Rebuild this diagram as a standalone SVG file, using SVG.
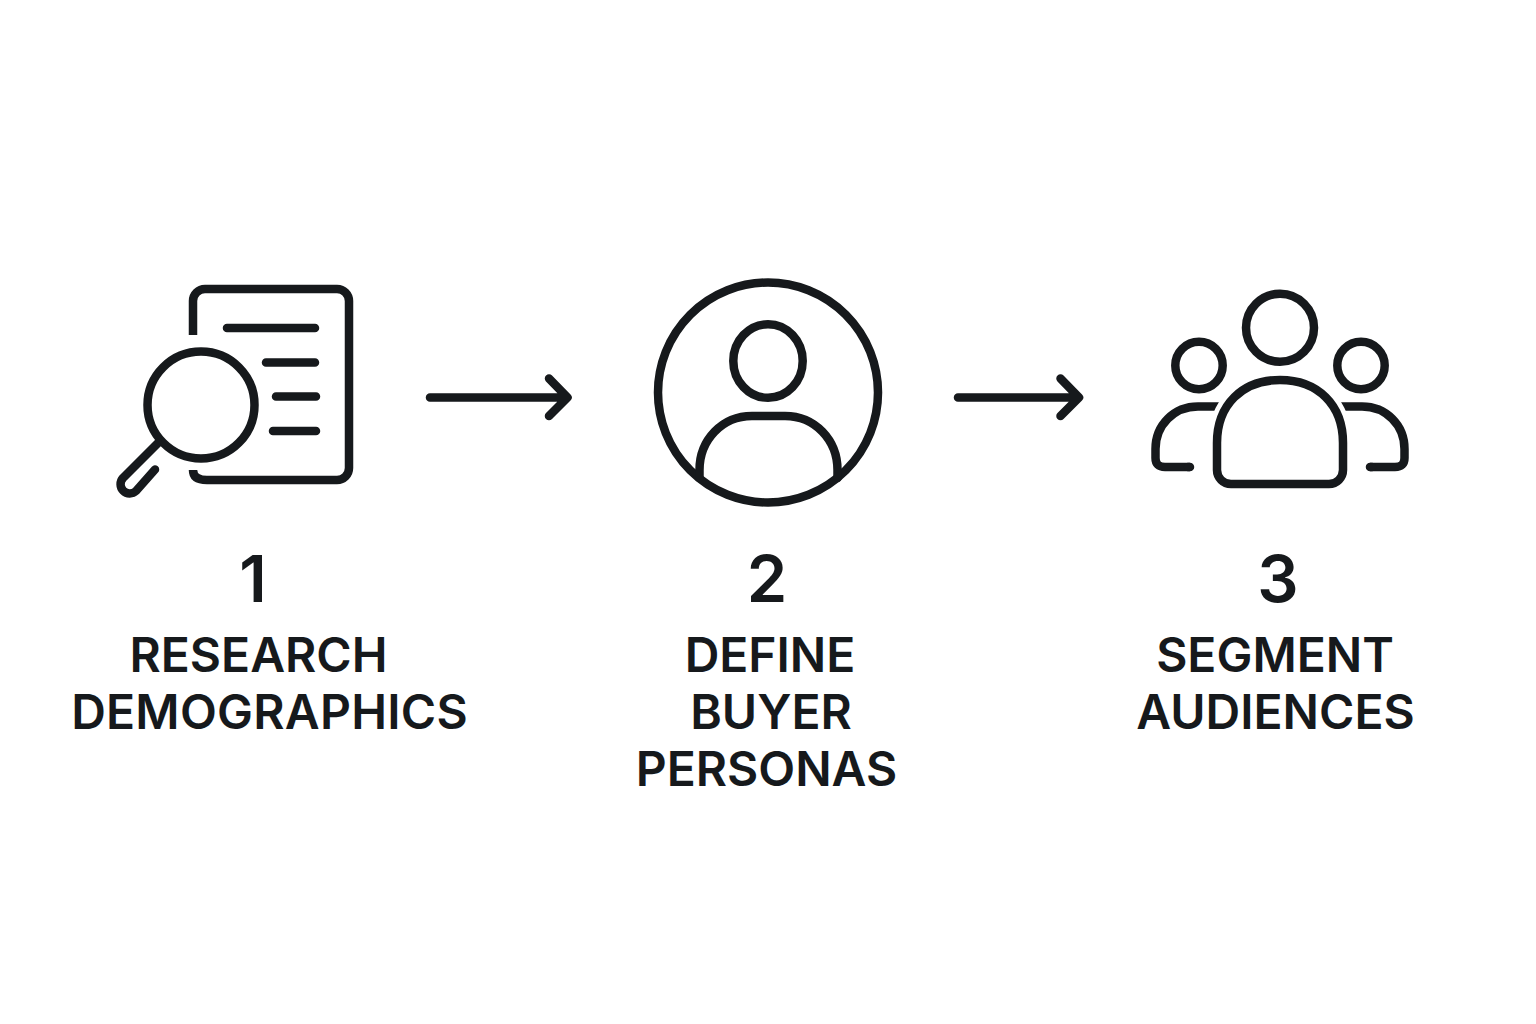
<svg xmlns="http://www.w3.org/2000/svg" width="1536" height="1024" viewBox="0 0 1536 1024">
<style>
.i{fill:none;stroke:#16191c;stroke-width:8.500;stroke-linecap:round;stroke-linejoin:round}
.b{stroke-linecap:butt}
.halo{fill:none;stroke:#fff;stroke-width:18}
.t{font-family:Inter,"Liberation Sans",sans-serif;font-weight:600;font-size:48px;fill:#16191c;text-anchor:middle}
.n{font-size:65px}
</style>
<rect width="1536" height="1024" fill="#fff"/>
<g id="connectors">
<path class="i" d="M430 397.500H567M549 378.500L567.500 397.500L549 416"/>
<path class="i" d="M958 397.500H1078M1060.500 378.500L1079 397.500L1060.500 416"/>
</g>
<g id="node-1">
<path class="i b" d="M193 335V301A12 12 0 0 1 205 289H337A12 12 0 0 1 349 301V468A12 12 0 0 1 337 480H207Q193 480 193 470"/>
<path class="i" d="M227 328H315M266 362.500H315M276 396.500H316M273 431H316"/>
<circle class="i" cx="201" cy="405" r="53.500"/>
<path class="i" d="M158 443L123 478A9.200 9.200 0 0 0 136 491L155 469.500"/>
<text class="t n" x="253" y="601.500">1</text>
<text class="t" x="258.500" y="672">RESEARCH</text>
<text class="t" x="269.500" y="728.500" style="letter-spacing:.25px">DEMOGRAPHICS</text>
</g>
<g id="node-2">
<circle class="i" cx="768" cy="392.500" r="110"/>
<ellipse class="i" cx="768" cy="361" rx="34.700" ry="36.800"/>
<path class="i" d="M699.500 478V470C699.500 440 722 416 752 416H785C815 416 837.500 440 837.500 470V478"/>
<text class="t n" x="767" y="601.500">2</text>
<text class="t" x="770" y="672">DEFINE</text>
<text class="t" x="771" y="728.500">BUYER</text>
<text class="t" x="766.500" y="785.500">PERSONAS</text>
</g>
<g id="node-3">
<circle class="i" cx="1280" cy="327.700" r="34"/>
<circle class="i" cx="1199" cy="365.500" r="23.700"/>
<circle class="i" cx="1361" cy="365.500" r="23.700"/>
<path class="i b" d="M1222 406.500H1198C1174 406.500 1155.500 425 1155.500 449V458Q1155.500 467 1165 467H1190"/>
<path class="i b" d="M1338 406.500H1362C1386 406.500 1404.500 425 1404.500 449V458Q1404.500 467 1395 467H1370"/>
<path class="i" d="M1190 467H1188M1370 467H1372"/>
<path class="halo" d="M1217 470V443C1217 405 1242 380 1280 380C1318 380 1343 405 1343 443V470"/>
<path class="i" d="M1231 484H1329A14 14 0 0 0 1343 470V443C1343 405 1318 380 1280 380C1242 380 1217 405 1217 443V470A14 14 0 0 0 1231 484Z"/>
<text class="t n" x="1278" y="601.500">3</text>
<text class="t" x="1275" y="672">SEGMENT</text>
<text class="t" x="1275.500" y="728.500">AUDIENCES</text>
</g>
</svg>
